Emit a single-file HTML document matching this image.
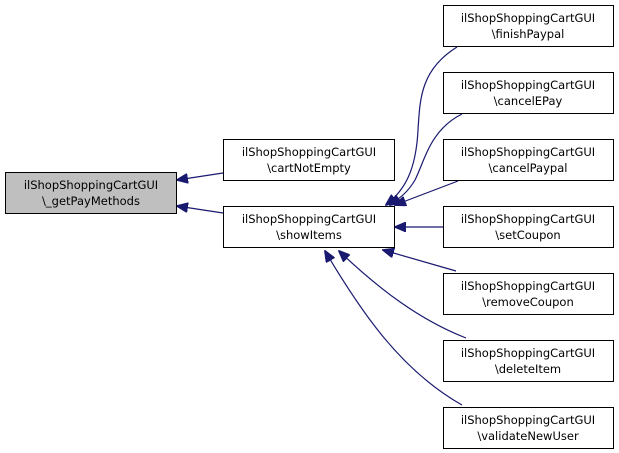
<!DOCTYPE html>
<html><head><meta charset="utf-8"><style>
html,body{margin:0;padding:0;background:#fff;}
svg{display:block;}
text{font-family:"DejaVu Sans","Liberation Sans",sans-serif;font-size:11.5px;fill:#000;}
</style></head><body>
<svg width="619" height="453" viewBox="0 0 619 453" xmlns="http://www.w3.org/2000/svg">
<defs>
<marker id="a" markerWidth="12" markerHeight="10" refX="11" refY="5" orient="auto" markerUnits="userSpaceOnUse">
<path d="M0,0 L12,5 L0,10 Z" fill="#191970" stroke="#191970"/>
</marker>
</defs>
<g fill="none" stroke="#191970" stroke-width="1.2">
<path d="M223,173 L177,180" marker-end="url(#a)"/>
<path d="M223,213 L177,206" marker-end="url(#a)"/>
<path d="M457,47 C420,70 420,100 418,130 C416,170 405,190 386,205" marker-end="url(#a)"/>
<path d="M462,114 C430,130 425,160 415,180 C408,192 400,198 390,205" marker-end="url(#a)"/>
<path d="M458,181 L395,205" marker-end="url(#a)"/>
<path d="M443,227 L395,227" marker-end="url(#a)"/>
<path d="M456,271 L383,250" marker-end="url(#a)"/>
<path d="M466,338 C420,320 380,290 339,251" marker-end="url(#a)"/>
<path d="M462,405 C400,370 360,310 325,251" marker-end="url(#a)"/>
</g>
<g stroke="#000" stroke-width="1">
<rect x="5.5" y="172.5" width="171" height="41" fill="#bfbfbf"/>
<rect x="223.5" y="139.5" width="171" height="41" fill="#fff"/>
<rect x="223.5" y="206.5" width="171" height="41" fill="#fff"/>
<rect x="443.5" y="5.5" width="170" height="41" fill="#fff"/>
<rect x="443.5" y="72.5" width="170" height="41" fill="#fff"/>
<rect x="443.5" y="139.5" width="170" height="41" fill="#fff"/>
<rect x="443.5" y="206.5" width="170" height="41" fill="#fff"/>
<rect x="443.5" y="273.5" width="170" height="41" fill="#fff"/>
<rect x="443.5" y="340.5" width="170" height="41" fill="#fff"/>
<rect x="443.5" y="407.5" width="170" height="41" fill="#fff"/>
</g>
<g text-anchor="middle">
<text x="91" y="189">ilShopShoppingCartGUI</text><text x="91" y="205">\_getPayMethods</text>
<text x="309" y="156">ilShopShoppingCartGUI</text><text x="309" y="172">\cartNotEmpty</text>
<text x="309" y="223">ilShopShoppingCartGUI</text><text x="309" y="239">\showItems</text>
<text x="528" y="22">ilShopShoppingCartGUI</text><text x="528" y="38">\finishPaypal</text>
<text x="528" y="89">ilShopShoppingCartGUI</text><text x="528" y="105">\cancelEPay</text>
<text x="528" y="156">ilShopShoppingCartGUI</text><text x="528" y="172">\cancelPaypal</text>
<text x="528" y="223">ilShopShoppingCartGUI</text><text x="528" y="239">\setCoupon</text>
<text x="528" y="290">ilShopShoppingCartGUI</text><text x="528" y="306">\removeCoupon</text>
<text x="528" y="357">ilShopShoppingCartGUI</text><text x="528" y="373">\deleteItem</text>
<text x="528" y="424">ilShopShoppingCartGUI</text><text x="528" y="440">\validateNewUser</text>
</g>
</svg>
</body></html>
